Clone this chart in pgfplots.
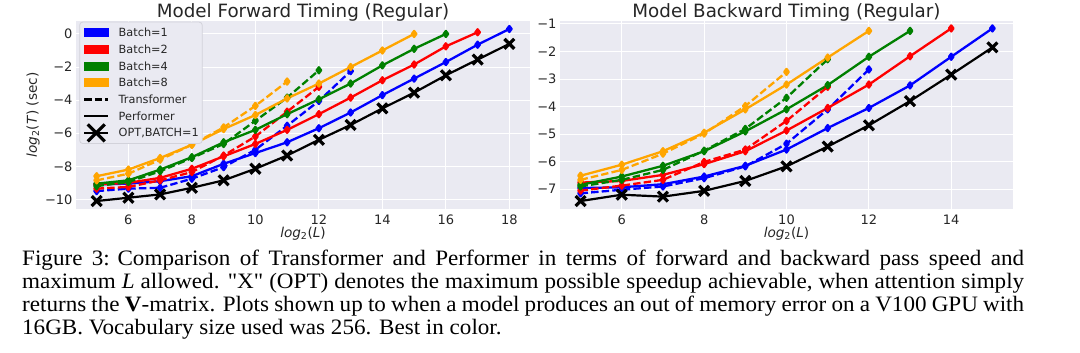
\documentclass[border=0pt]{standalone}
\usepackage{fontspec}
\setmainfont{DejaVu Sans}
\newfontfamily\capfont[FakeStretch=1.05]{Liberation Serif}
\usepackage{pgfplots}
\pgfplotsset{compat=1.18}
\definecolor{bgc}{HTML}{EAEAF2}
\definecolor{txt}{HTML}{262626}
\definecolor{lgedge}{HTML}{D2D2DA}
\definecolor{mygreen}{RGB}{0,128,0}
\definecolor{myorange}{RGB}{255,165,0}
\pgfplotsset{
  sb/.style={
    scale only axis,
    height=188.6pt,
    clip=false,
    axis background/.style={fill=bgc},
    axis line style={draw=none},
    grid=major,
    major grid style={white, line width=1pt},
    major tick length=0pt,
    tick style={draw=none},
    tick label style={font=\fontsize{13}{15}\selectfont, text=txt},
    xticklabel style={anchor=base, yshift=-15.7pt},
    yticklabel style={anchor=east},
    every axis title/.style={font=\fontsize{18.3}{22}\selectfont, text=txt, at={(0.5,1)}, anchor=base, yshift=3.4pt},
    every axis x label/.style={font=\fontsize{13.6}{16}\selectfont, text=txt, at={(axis description cs:0.5,0)}, anchor=base, yshift=-28.2pt},
    every axis y label/.style={font=\fontsize{13.6}{16}\selectfont, text=txt, at={(axis description cs:-0.0859,0.5)}, rotate=90, anchor=base},
  },
  perf/.style={line width=2.3pt, line join=round, mark=diamond*, mark size=3pt, mark options={solid}, forget plot},
  trans/.style={perf, dash pattern=on 7.4pt off 3.2pt},
  opt/.style={black, line width=2.2pt, mark=x, mark size=7pt, mark options={line width=3.2pt, solid}, forget plot},
}
\begin{document}
\begin{tikzpicture}[x=1pt,y=1pt]
\path[use as bounding box] (0,0) rectangle (1080,353);

% ---------------- Forward ----------------
\begin{axis}[sb,
  at={(76pt,143.7pt)}, anchor=south west,
  width=454pt,
  xmin=4.35, xmax=18.65, ymin=-10.6, ymax=0.8,
  xtick={6,8,10,12,14,16,18}, xticklabels={6,8,10,12,14,16,18},
  ytick={-10,-8,-6,-4,-2,0}, yticklabels={−10,−8,−6,−4,−2,0},
  title={Model Forward Timing (Regular)},
  xlabel={\textit{log}\textsubscript{2}(\textit{L})},
  ylabel={\textit{log}\textsubscript{2}(\textit{T}) (sec)},
  legend cell align=left,
  legend style={at={(axis description cs:0.0073,0.9947)}, anchor=north west,
    fill=bgc, draw=lgedge, line width=0.8pt, rounded corners=3pt,
    inner xsep=3.4pt, inner ysep=2.25pt,
    font=\fontsize{11.3}{13}\selectfont, text=txt,
    nodes={inner sep=0pt, text height=12.45pt, text depth=4.25pt},
    row sep=0pt, column sep=9.3pt},
]
\addlegendimage{legend image code/.code={\fill[blue, sharp corners] (0pt,-4pt) rectangle (24pt,4pt);}}
\addlegendentry{Batch=1}
\addlegendimage{legend image code/.code={\fill[red, sharp corners] (0pt,-4pt) rectangle (24pt,4pt);}}
\addlegendentry{Batch=2}
\addlegendimage{legend image code/.code={\fill[mygreen, sharp corners] (0pt,-4pt) rectangle (24pt,4pt);}}
\addlegendentry{Batch=4}
\addlegendimage{legend image code/.code={\fill[myorange, sharp corners] (0pt,-4pt) rectangle (24pt,4pt);}}
\addlegendentry{Batch=8}
\addlegendimage{legend image code/.code={\draw[black, sharp corners, line width=2.3pt, dash pattern=on 7.4pt off 3.2pt] (0pt,0pt) -- (24pt,0pt);}}
\addlegendentry{Transformer}
\addlegendimage{legend image code/.code={\draw[black, sharp corners, line width=2.3pt] (0pt,0pt) -- (24pt,0pt);}}
\addlegendentry{Performer}
\addlegendimage{legend image code/.code={\draw[black, sharp corners, line width=2.3pt] (0pt,0pt) -- (24pt,0pt);
  \draw[overlay, sharp corners, black, line width=3.2pt] (3.5pt,-8.5pt) -- (20.5pt,8.5pt) (3.5pt,8.5pt) -- (20.5pt,-8.5pt);}}
\addlegendentry{OPT,BATCH=1}

\addplot[trans, blue] coordinates {(5,-9.5)(6,-9.35)(7,-9.3)(8,-8.75)(9,-8.05)(10,-7.0)(11,-5.55)(12,-4.05)(13,-2.25)};
\addplot[perf, blue] coordinates {(5,-9.1)(6,-9.05)(7,-8.9)(8,-8.6)(9,-7.85)(10,-7.2)(11,-6.55)(12,-5.7)(13,-4.75)(14,-3.7)(15,-2.7)(16,-1.7)(17,-0.65)(18,0.3)};
\addplot[trans, red] coordinates {(5,-9.35)(6,-9.25)(7,-8.85)(8,-8.35)(9,-7.35)(10,-6.2)(11,-4.7)(12,-3.2)};
\addplot[perf, red] coordinates {(5,-9.1)(6,-9.0)(7,-8.7)(8,-8.15)(9,-7.4)(10,-6.65)(11,-5.8)(12,-4.85)(13,-3.85)(14,-2.8)(15,-1.85)(16,-0.75)(17,0.1)};
\addplot[trans, mygreen] coordinates {(5,-9.2)(6,-8.95)(7,-8.3)(8,-7.5)(9,-6.65)(10,-5.25)(11,-3.85)(12,-2.2)};
\addplot[perf, mygreen] coordinates {(5,-9.05)(6,-8.85)(7,-8.2)(8,-7.45)(9,-6.55)(10,-5.8)(11,-4.85)(12,-3.95)(13,-3.0)(14,-1.9)(15,-0.9)(16,0.0)};
\addplot[trans, myorange] coordinates {(5,-8.85)(6,-8.45)(7,-7.6)(8,-6.7)(9,-5.65)(10,-4.35)(11,-2.88)};
\addplot[perf, myorange] coordinates {(5,-8.6)(6,-8.2)(7,-7.5)(8,-6.7)(9,-5.75)(10,-4.9)(11,-3.9)(12,-3.0)(13,-2.0)(14,-1.0)(15,0.0)};
\addplot[opt] coordinates {(5,-10.1)(6,-9.9)(7,-9.7)(8,-9.3)(9,-8.85)(10,-8.15)(11,-7.35)(12,-6.4)(13,-5.5)(14,-4.5)(15,-3.55)(16,-2.5)(17,-1.55)(18,-0.6)};
\end{axis}

% ---------------- Backward ----------------
\begin{axis}[sb,
  at={(560pt,143.7pt)}, anchor=south west,
  width=453pt,
  xmin=4.5, xmax=15.5, ymin=-7.73, ymax=-0.88,
  xtick={6,8,10,12,14}, xticklabels={6,8,10,12,14},
  ytick={-7,-6,-5,-4,-3,-2,-1}, yticklabels={−7,−6,−5,−4,−3,−2,−1},
  title={Model Backward Timing (Regular)},
  xlabel={\textit{log}\textsubscript{2}(\textit{L})},
]
\addplot[trans, blue] coordinates {(5,-7.15)(6,-7.02)(7,-6.9)(8,-6.6)(9,-6.17)(10,-5.35)(11,-4.1)(12,-2.65)};
\addplot[perf, blue] coordinates {(5,-6.96)(6,-6.93)(7,-6.82)(8,-6.54)(9,-6.15)(10,-5.56)(11,-4.78)(12,-4.05)(13,-3.23)(14,-2.19)(15,-1.16)};
\addplot[trans, red] coordinates {(5,-7.05)(6,-6.87)(7,-6.66)(8,-6.01)(9,-5.56)(10,-4.52)(11,-3.28)};
\addplot[perf, red] coordinates {(5,-6.76)(6,-6.7)(7,-6.48)(8,-6.09)(9,-5.62)(10,-4.87)(11,-4.05)(12,-3.2)(13,-2.17)(14,-1.16)};
\addplot[trans, mygreen] coordinates {(5,-6.9)(6,-6.66)(7,-6.3)(8,-5.6)(9,-4.81)(10,-3.68)(11,-2.28)};
\addplot[perf, mygreen] coordinates {(5,-6.84)(6,-6.54)(7,-6.15)(8,-5.62)(9,-4.9)(10,-4.1)(11,-3.22)(12,-2.19)(13,-1.25)};
\addplot[trans, myorange] coordinates {(5,-6.66)(6,-6.3)(7,-5.71)(8,-4.98)(9,-3.98)(10,-2.74)};
\addplot[perf, myorange] coordinates {(5,-6.51)(6,-6.11)(7,-5.62)(8,-4.95)(9,-4.1)(10,-3.2)(11,-2.22)(12,-1.25)};
\addplot[opt] coordinates {(5,-7.43)(6,-7.2)(7,-7.27)(8,-7.06)(9,-6.7)(10,-6.17)(11,-5.45)(12,-4.68)(13,-3.8)(14,-2.84)(15,-1.85)};
\end{axis}

% ---------------- Caption ----------------
\begin{scope}[every node/.style={anchor=base west, inner sep=0pt, font=\capfont\fontsize{22}{23}\selectfont}]
\node at (22,87) {\makebox[1002pt][s]{Figure 3:\hspace{0.35em}Comparison of Transformer and Performer in terms of forward and backward pass speed and}};
\node at (22,64) {\makebox[1002pt][s]{maximum \textit{L} allowed. "X" (OPT) denotes the maximum possible speedup achievable, when attention simply}};
\node at (22,41) {\makebox[1002pt][s]{returns the \textbf{V}-matrix. Plots shown up to when a model produces an out of memory error on a V100 GPU with}};
\node at (22,18) {16GB. Vocabulary size used was 256. Best in color.};
\end{scope}
\end{tikzpicture}
\end{document}
